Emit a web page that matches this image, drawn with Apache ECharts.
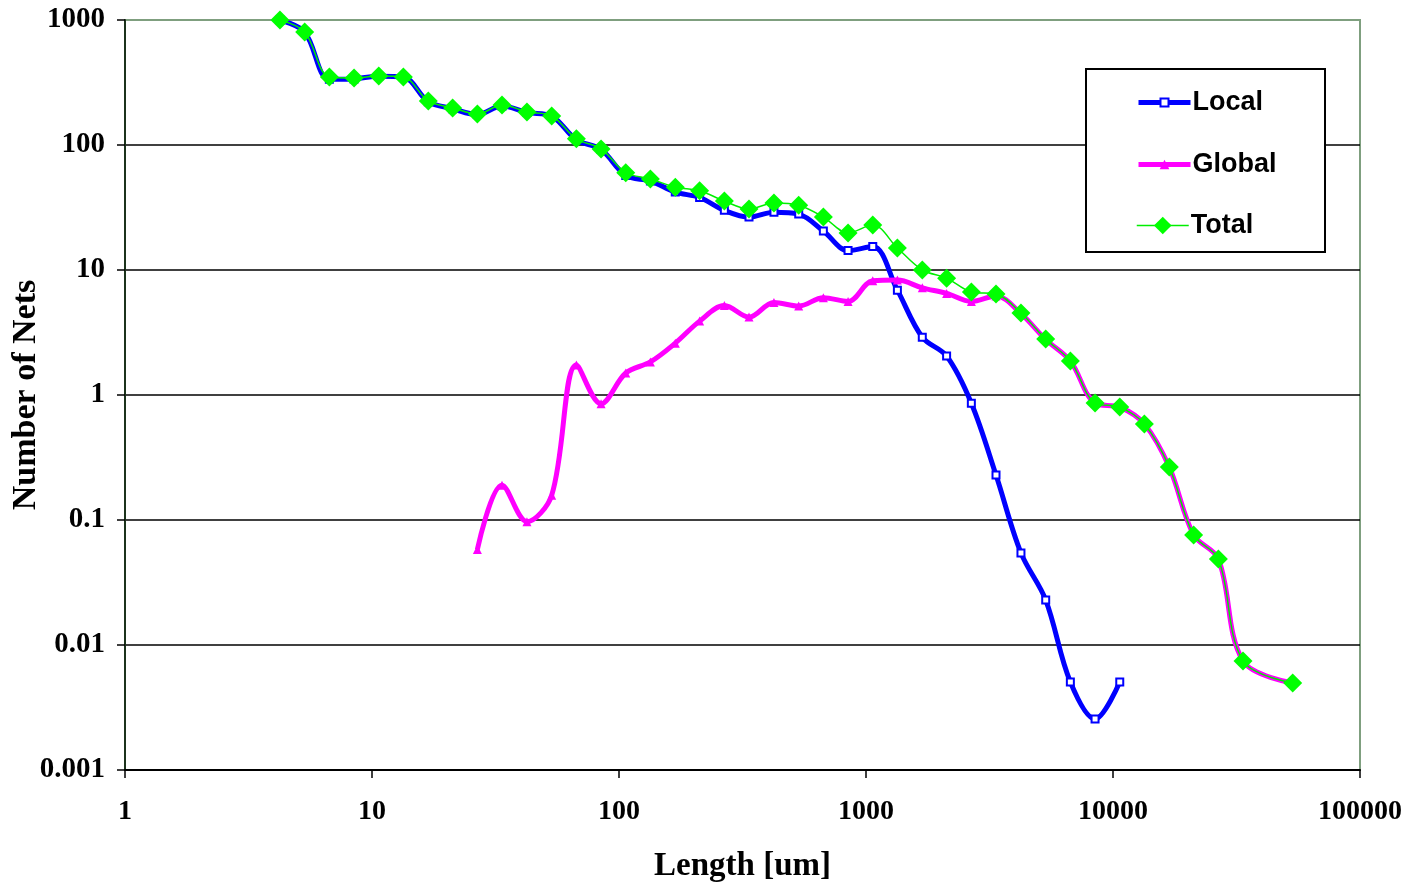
<!DOCTYPE html>
<html>
<head>
<meta charset="utf-8">
<script src="https://cdn.jsdelivr.net/npm/echarts@6/dist/echarts.min.js"></script>
<style>
html,body{margin:0;padding:0;background:#fff;}
#chart{width:1420px;height:885px;}
</style>
</head>
<body>
<div id="chart"></div>
<script>
// Net length bins (um)
var lengths = [4.24, 5.34, 6.72, 8.46, 10.65, 13.4, 16.9, 21.2, 26.7, 33.6, 42.4, 53.4, 67.2, 84.6, 106.5, 134, 169, 212, 267, 336, 424, 534, 672, 846, 1065, 1340, 1690, 2120, 2670, 3360, 4240, 5340, 6720, 8460, 10650, 13400, 16900, 21200, 26700, 33600, 42400, 53400];
var localNets = [1000, 800, 335, 338, 355, 350, 222, 195, 175, 205, 182, 170, 110, 92, 57, 51.5, 42, 38, 30, 26.5, 29, 28, 20.5, 14.3, 15.4, 6.9, 2.9, 2.05, 0.86, 0.229, 0.0545, 0.0229, 0.00506, 0.00256, 0.00506, null, null, null, null, null, null, null];
var globalNets = [null, null, null, null, null, null, null, null, 0.058, 0.19, 0.097, 0.158, 1.74, 0.85, 1.5, 1.84, 2.6, 3.9, 5.2, 4.2, 5.5, 5.15, 6.0, 5.6, 8.2, 8.3, 7.2, 6.5, 5.6, 6.2, 4.48, 2.78, 1.87, 0.86, 0.80, 0.586, 0.265, 0.076, 0.0488, 0.00745, null, 0.00497];
var totalNets = [1000, 802, 350, 344, 357, 350, 225, 198, 177, 209, 184, 171, 112, 93, 60, 53.5, 46, 43, 35.6, 30.8, 34.4, 33, 26.5, 19.8, 22.9, 15, 10, 8.6, 6.67, 6.43, 4.53, 2.8, 1.87, 0.863, 0.80, 0.586, 0.265, 0.076, 0.0488, 0.00745, null, 0.00497];
var seriesNames = ['Local', 'Global', 'Total'];
var xTickLabels = ['1', '10', '100', '1000', '10000', '100000'];
var yTickLabels = ['0.001', '0.01', '0.1', '1', '10', '100', '1000'];

function pairs(ys) {
  var out = [];
  for (var i = 0; i < lengths.length; i++) {
    if (ys[i] !== null) out.push([lengths[i], ys[i]]);
  }
  return out;
}

var serif = "'Liberation Serif', 'Times New Roman', serif";
var sans = "'Liberation Sans', Arial, sans-serif";

function legendFor(name, top, itemHeight) {
  return {
    left: 1136, top: top, orient: 'vertical', padding: 0,
    itemWidth: 52, itemHeight: itemHeight, itemGap: 0, z: 20,
    lineStyle: {width: 'inherit'},
    textStyle: {fontFamily: sans, fontWeight: 'bold', fontSize: 27, color: '#000', padding: [0, 0, 0, -3]},
    data: [name]
  };
}

var chart = echarts.init(document.getElementById('chart'), null, {renderer: 'canvas'});
chart.setOption({
  animation: false,
  backgroundColor: '#fff',
  grid: {
    left: 125, right: 60, top: 20, bottom: 115,
    containLabel: false, outerBoundsMode: 'none',
    show: true, borderColor: '#7f9f7f', borderWidth: 2, backgroundColor: '#fff'
  },
  graphic: [{
    type: 'rect', left: 1085, top: 68, z: 15,
    shape: {width: 239, height: 183},
    style: {fill: '#fff', stroke: '#000', lineWidth: 2}
  }],
  legend: [
    legendFor(seriesNames[0], 89, 10),
    legendFor(seriesNames[1], 151, 12),
    legendFor(seriesNames[2], 212, 22)
  ],
  xAxis: {
    type: 'log', logBase: 10, min: 1, max: 100000,
    name: 'Length [um]', nameLocation: 'middle', nameGap: 80, nameMoveOverlap: false,
    nameTextStyle: {fontFamily: serif, fontWeight: 'bold', fontSize: 33, color: '#000'},
    axisLine: {show: true, lineStyle: {color: '#000', width: 2}},
    axisTick: {show: true, inside: false, length: 8, lineStyle: {color: '#000', width: 1.5}},
    minorTick: {show: false},
    splitLine: {show: false},
    axisLabel: {
      margin: 28, fontFamily: serif, fontWeight: 'bold', fontSize: 28, color: '#000',
      formatter: function (v) { return xTickLabels[Math.round(Math.log10(v))]; }
    }
  },
  yAxis: {
    type: 'log', logBase: 10, min: 0.001, max: 1000,
    name: 'Number of Nets', nameLocation: 'middle', nameGap: 82, nameRotate: 90, nameMoveOverlap: false,
    nameTextStyle: {fontFamily: serif, fontWeight: 'bold', fontSize: 34, color: '#000'},
    axisLine: {show: true, lineStyle: {color: '#1c331c', width: 2}},
    axisTick: {show: true, inside: false, length: 8, lineStyle: {color: '#000', width: 1.5}},
    splitLine: {show: true, showMinLine: false, showMaxLine: false, lineStyle: {color: '#000', width: 1.5}},
    axisLabel: {
      margin: 20, fontFamily: serif, fontWeight: 'bold', fontSize: 29, color: '#000',
      formatter: function (v) { return yTickLabels[Math.round(Math.log10(v)) + 3]; }
    }
  },
  series: [
    {
      name: seriesNames[0], type: 'line', data: pairs(localNets), smooth: 0.35,
      symbol: 'emptyRect', symbolSize: 7, showAllSymbol: true,
      lineStyle: {color: '#0000ff', width: 5},
      itemStyle: {color: '#0000ff', borderColor: '#2020ff', borderWidth: 1.5}
    },
    {
      name: seriesNames[1], type: 'line', data: pairs(globalNets), smooth: 0.35,
      symbol: 'triangle', symbolSize: 9, showAllSymbol: true,
      lineStyle: {color: '#ff00ff', width: 5},
      itemStyle: {color: '#ff00ff'}
    },
    {
      name: seriesNames[2], type: 'line', data: pairs(totalNets), smooth: 0.35,
      symbol: 'diamond', symbolSize: [19, 19], showAllSymbol: true,
      lineStyle: {color: '#00ee00', width: 1.5},
      itemStyle: {color: '#00ff00'}
    }
  ]
});
</script>
</body>
</html>
